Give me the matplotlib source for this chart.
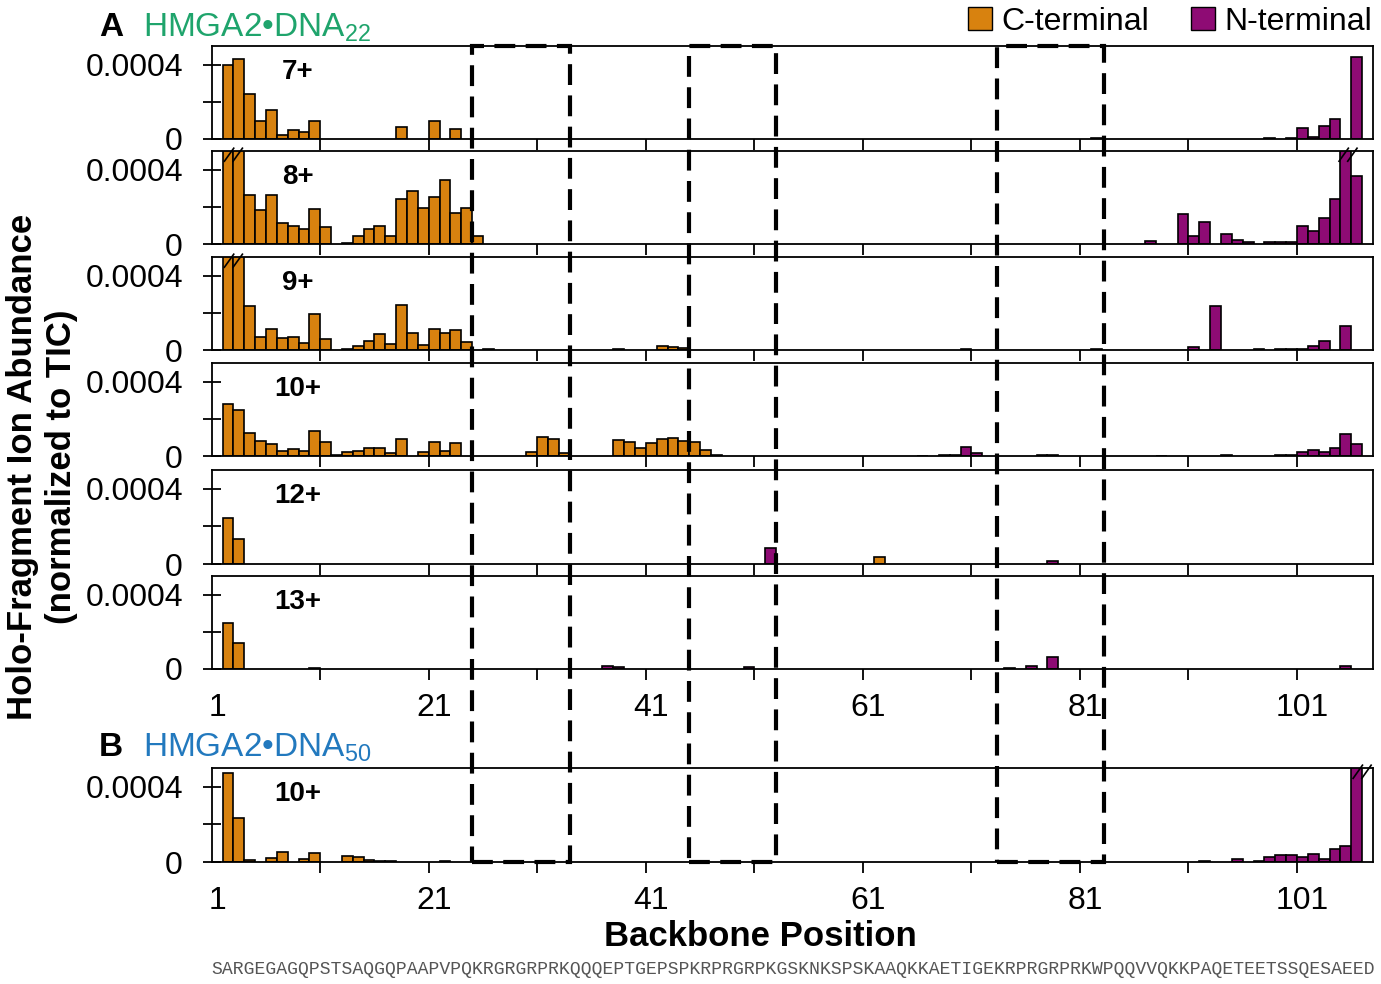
import matplotlib.pyplot as plt
from matplotlib.patches import Patch, Rectangle
from matplotlib.transforms import blended_transform_factory
import numpy as np

plt.rcParams['font.family'] = ['Liberation Sans', 'DejaVu Sans']
plt.rcParams['mathtext.fontset'] = 'custom'
plt.rcParams['mathtext.rm'] = 'Liberation Sans'

# abundances in units of 1e-4 (normalized to TIC); bars above 5 are cut off at the top
c7_pos = [2, 3, 4, 5, 6, 7, 8, 9, 10, 18, 21, 23, 82]
c7_val = [4.0, 4.3, 2.4, 0.96, 1.55, 0.2, 0.48, 0.39, 0.96, 0.66, 0.96, 0.52, 0.04]
n7_pos = [98, 100, 101, 102, 103, 104, 106]
n7_val = [0.03, 0.04, 0.57, 0.12, 0.69, 1.1, 4.43]

c8_pos = [2, 3, 4, 5, 6, 7, 8, 9, 10, 11, 13, 14, 15, 16, 17, 18, 19, 20, 21, 22, 23, 24, 25]
c8_val = [7.0, 6.2, 2.61, 1.81, 2.65, 1.14, 0.98, 0.78, 1.9, 0.89, 0.05, 0.44, 0.8, 0.96,
          0.42, 2.44, 2.83, 1.94, 2.52, 3.45, 1.69, 1.94, 0.44]
n8_pos = [87, 90, 91, 92, 94, 95, 96, 98, 99, 100, 101, 102, 103, 104, 105, 106]
n8_val = [0.16, 1.6, 0.44, 1.19, 0.52, 0.21, 0.1, 0.12, 0.1, 0.12, 0.96, 0.71, 1.42, 2.44, 6.5, 3.63]

c9_pos = [2, 3, 4, 5, 6, 7, 8, 9, 10, 11, 13, 14, 15, 16, 17, 18, 19, 20, 21, 22, 23, 24,
          26, 38, 42, 43, 44, 70]
c9_val = [7.0, 6.5, 2.36, 0.71, 1.12, 0.62, 0.71, 0.36, 1.96, 0.59, 0.05, 0.21, 0.5, 0.85,
          0.3, 2.4, 0.89, 0.27, 1.12, 0.92, 1.1, 0.44, 0.04, 0.04, 0.21, 0.15, 0.12, 0.06]
n9_pos = [82, 91, 93, 97, 99, 100, 101, 102, 103, 105]
n9_val = [0.05, 0.15, 2.36, 0.05, 0.03, 0.05, 0.07, 0.21, 0.48, 1.28]

c10_pos = [2, 3, 4, 5, 6, 7, 8, 9, 10, 11, 12, 13, 14, 15, 16, 17, 18, 20, 21, 22, 23,
           30, 31, 32, 33, 38, 39, 40, 41, 42, 43, 44, 45, 46, 47, 66, 68, 69]
c10_val = [2.77, 2.45, 1.24, 0.8, 0.62, 0.27, 0.36, 0.28, 1.35, 0.76, 0.03, 0.23, 0.28, 0.44,
           0.44, 0.18, 0.89, 0.2, 0.76, 0.28, 0.71, 0.2, 1.03, 0.94, 0.18, 0.85, 0.76, 0.44,
           0.68, 0.89, 0.99, 0.82, 0.75, 0.32, 0.05, 0.02, 0.05, 0.05]
n10_pos = [70, 71, 77, 78, 88, 94, 99, 100, 101, 102, 103, 104, 105, 106]
n10_val = [0.48, 0.18, 0.03, 0.08, 0.02, 0.04, 0.03, 0.04, 0.2, 0.32, 0.23, 0.41, 1.17, 0.64]

c12_pos = [2, 3, 62]
c12_val = [2.44, 1.32, 0.36]
n12_pos = [52, 78]
n12_val = [0.84, 0.15]

c13_pos = [2, 3, 10]
c13_val = [2.49, 1.4, 0.03]
n13_pos = [37, 38, 50, 74, 76, 78, 105]
n13_val = [0.16, 0.1, 0.1, 0.05, 0.18, 0.66, 0.15]

cB_pos = [2, 3, 4, 6, 7, 9, 10, 13, 14, 15, 16, 17, 22]
cB_val = [4.76, 2.33, 0.1, 0.21, 0.53, 0.14, 0.48, 0.32, 0.27, 0.08, 0.05, 0.05, 0.03]
nB_pos = [92, 95, 97, 98, 99, 100, 101, 102, 103, 104, 105, 106]
nB_val = [0.05, 0.14, 0.06, 0.28, 0.36, 0.36, 0.28, 0.43, 0.14, 0.68, 0.85, 6.5]

charges = ['7+', '8+', '9+', '10+', '12+', '13+', '10+']
breaks = [[], [2.5, 105.2], [2.5], [], [], [], [106.5]]
boxes = [(24.5, 33.5), (44.5, 52.5), (72.9, 82.75)]
xlabels = [1, 21, 41, 61, 81, 101]
sequence = ('SARGEGAGQPSTSAQGQPAAPVPQKRGRGRPRKQQQEPTGEPSPKRPRGRPKGSKNKSPSKAAQKKAETIGEKRPRGRPRKWPQQVVQKKPAQETEETSSQESAEED')

orange = '#D8820F'
purple = '#8E0B74'

W, H = 1381, 984
fig = plt.figure(figsize=(W / 100, H / 100), dpi=100)
left, right = 211.7 / W, 1373 / W
rows = [(46, 139), (151, 244), (257, 350), (363, 456), (470, 564), (576, 669), (768, 862)]

data = [(c7_pos, c7_val, n7_pos, n7_val), (c8_pos, c8_val, n8_pos, n8_val),
        (c9_pos, c9_val, n9_pos, n9_val), (c10_pos, c10_val, n10_pos, n10_val),
        (c12_pos, c12_val, n12_pos, n12_val), (c13_pos, c13_val, n13_pos, n13_val),
        (cB_pos, cB_val, nB_pos, nB_val)]

for i, (top, bot) in enumerate(rows):
    ax = fig.add_axes([left, 1 - bot / H, right - left, (bot - top) / H])
    cp, cv, npos, nv = data[i]
    ax.bar(cp, np.array(cv) * 1e-4, width=1, color=orange, edgecolor='black', linewidth=1.2, zorder=2)
    ax.bar(npos, np.array(nv) * 1e-4, width=1, color=purple, edgecolor='black', linewidth=1.2, zorder=2)
    ax.set_xlim(0.5, 107.5)
    ax.set_ylim(0, 5e-4)
    ax.set_yticks([0, 2e-4, 4e-4])
    ax.set_yticklabels(['0', '', '0.0004'])
    ax.tick_params(axis='y', direction='inout', length=13.5, width=1.3, labelsize=23, pad=14)
    ax.set_xticks(np.arange(10.5, 101, 10))
    ax.set_xticklabels([])
    ax.set_xticks(xlabels, minor=True)
    if i in (5, 6):
        ax.set_xticklabels([str(v) for v in xlabels], minor=True)
    else:
        ax.set_xticklabels([], minor=True)
    ax.tick_params(axis='x', which='major', direction='out', length=8, width=1.3)
    ax.tick_params(axis='x', which='minor', length=0, labelsize=23, pad=17)
    for s in ax.spines.values():
        s.set_linewidth(1.3)
    tr = blended_transform_factory(ax.transData, ax.transAxes)
    ax.text(8.4, 0.72, charges[i], transform=tr, ha='center', va='center',
            fontsize=20, fontweight='bold')
    # break marks on bars that run off the top
    for xc in breaks[i]:
        for off in (-0.4, 0.4):
            ax.plot([xc + off - 0.43, xc + off + 0.43], [0.89, 1.03], transform=tr,
                    color='black', lw=1.2, clip_on=False, zorder=5)

# dashed boxes across all panels
ov = fig.add_axes([left, 1 - 862 / H, right - left, (862 - 46) / H], zorder=10)
ov.set_xlim(0.5, 107.5)
ov.set_ylim(0, 1)
ov.axis('off')
ov.patch.set_alpha(0)
for x0, x1 in boxes:
    ov.add_patch(Rectangle((x0, 0), x1 - x0, 1, fill=False, edgecolor='black',
                           lw=3, ls=(0, (5, 2.5)), clip_on=False))

# labels
fig.text(111 / W, 1 - 36 / H, 'A', fontsize=24, fontweight='bold', ha='center', va='baseline')
fig.text(143 / W, 1 - 36 / H, 'HMGA2•DNA$_\\mathregular{22}$', fontsize=24, color='#1FA46C',
         ha='left', va='baseline')
fig.text(111 / W, 1 - 756 / H, 'B', fontsize=24, fontweight='bold', ha='center', va='baseline')
fig.text(143 / W, 1 - 756 / H, 'HMGA2•DNA$_\\mathregular{50}$', fontsize=24, color='#2279BE',
         ha='left', va='baseline')

fig.text(760 / W, 1 - 937 / H, 'Backbone Position', fontsize=25, fontweight='bold',
         ha='center', va='center')
fig.text(42 / W, 1 - 467 / H, 'Holo-Fragment Ion Abundance\n(normalized to TIC)', fontsize=25,
         fontweight='bold', rotation=90, ha='center', va='center', multialignment='center',
         linespacing=1.25)
fig.text(left, 1 - 970 / H, sequence, fontsize=13.05, family='Liberation Mono', color='#555555',
         ha='left', va='center')

fig.legend(handles=[Patch(facecolor=orange, edgecolor='black', label='C-terminal'),
                    Patch(facecolor=purple, edgecolor='black', label='N-terminal')],
           loc='upper right', bbox_to_anchor=(1372 / W, 0.993), ncol=2, frameon=False,
           fontsize=23, handlelength=0.75, handleheight=0.75, handletextpad=0.3,
           columnspacing=1.3, borderaxespad=0, borderpad=0)

fig.savefig('out.png', dpi=100)
